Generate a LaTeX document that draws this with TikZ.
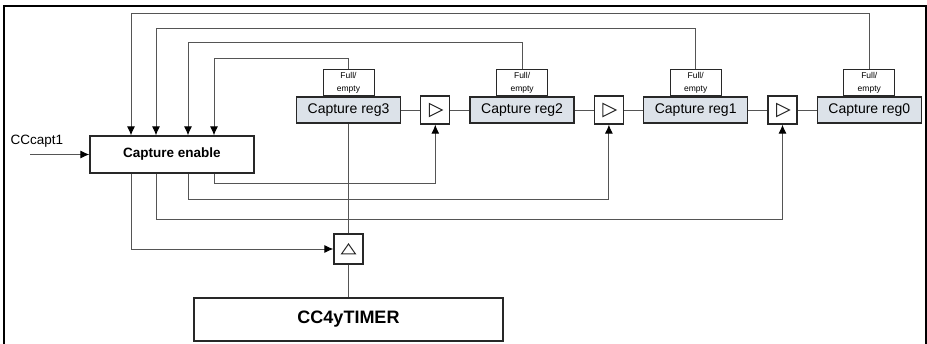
\documentclass[tikz,border=0pt]{standalone}
\usepackage{fontspec}
\setmainfont{Liberation Sans}
\usetikzlibrary{positioning, arrows.meta, calc}

\definecolor{regfill}{RGB}{220,226,233}
\definecolor{wirec}{RGB}{85,85,85}
\definecolor{boxc}{RGB}{40,40,40}

\begin{document}
\begin{tikzpicture}[
	x=1pt, y=-1pt, % one unit = one pixel of the layout
	node distance=19pt,
	>={Latex[length=9pt,width=8pt,color=black]},
	% Style for Nodes
	block/.style={
		rectangle,
		draw=boxc,
		line width=1.3pt,
		fill=white,
		align=center,
		inner sep=0pt
	},
	% Specific Node Styles
	enable/.style={block, minimum width=164pt, minimum height=37pt, font=\fontsize{13.5}{16}\selectfont\bfseries},
	timer/.style={block, minimum width=309pt, minimum height=43pt, font=\fontsize{18}{21}\selectfont\bfseries},
	reg/.style={block, fill=regfill, minimum width=104pt, minimum height=26pt, font=\fontsize{14}{16}\selectfont},
	flag/.style={block, line width=1pt, minimum width=51pt, minimum height=26pt, font=\fontsize{8.5}{12.5}\selectfont},
	buffer/.style={block, minimum width=29pt, minimum height=28pt,
		path picture={\draw[line width=1pt, boxc] ([shift={(-6pt,6.5pt)}]path picture bounding box.center) -- ++(13pt,-6.5pt) -- ++(-13pt,-6.5pt) -- cycle;}},
	trigger/.style={block, minimum width=29pt, minimum height=30pt,
		path picture={\draw[line width=1pt, boxc] ([shift={(-7pt,-5pt)}]path picture bounding box.center) -- ++(14pt,0pt) -- ++(-7pt,10pt) -- cycle;}},
	% Arrow Styles
	wire/.style={draw=wirec, line width=0.9pt},
	feed/.style={wire, ->},
	frame/.style={draw=black, line width=1.3pt}
	]
	
	\useasboundingbox (0,0) rectangle (927,344);
	
	% --- OUTER FRAME ---
	\draw[frame] (4,344) |- (926,6) -- (926,344);
	
	% --- CONTROL ---
	
	% Capture enable block
	\node[enable] (en) at (172,154.5) {Capture enable};
	
	% Input label
	\node[font=\fontsize{13.5}{16}\selectfont] (cclabel) at (37,141) {CCcapt1};
	\coordinate (ccin) at (30,154.5);
	
	% --- CAPTURE REGISTER CHAIN ---
	
	\node[reg] (r3) at (348.5,110) {Capture reg3};
	\node[buffer, right=of r3] (b1) {};
	\node[reg, right=of b1] (r2) {Capture reg2};
	\node[buffer, right=of r2] (b2) {};
	\node[reg, right=of b2] (r1) {Capture reg1};
	\node[buffer, right=of r1] (b3) {};
	\node[reg, right=of b3] (r0) {Capture reg0};
	
	% Full/empty flags on top of each register
	\foreach \i in {0,1,2,3} {
		\node[flag, above=0pt of r\i] (fe\i) {Full/\\empty};
	}
	
	% --- TIMER ---
	
	\node[trigger] (tr) at (348.5,249) {};
	\node[timer] (tm) at (348.5,319.5) {CC4yTIMER};
	
	% --- CONNECTIONS ---
	
	% Data path
	\draw[wire] (r3) -- (b1) -- (r2) -- (b2) -- (r1) -- (b3) -- (r0);
	\draw[wire] (r3.south) -- (tr.north);
	\draw[wire] (tr.south) -- (tm.north);
	
	% Input
	\draw[feed] (ccin) -- (en.west);
	
	% Full/empty status back to the enable block
	\foreach \i/\y/\dx in {3/58/42, 2/42/16, 1/28/-16, 0/13/-41} {
		\coordinate (top\i) at (0,\y);
		\draw[feed] (fe\i.north) -- (fe\i.north |- top\i) -| ([xshift=\dx pt]en.north);
	}
	
	% Shift enables to the buffers
	\foreach \j/\dy/\dx in {1/10/42, 2/26/16, 3/46/-16} {
		\draw[feed] ([xshift=\dx pt]en.south) -- ++(0,\dy) -| (b\j.south);
	}
	
	% Capture trigger of the timer
	\draw[feed] ([xshift=-41pt]en.south) |- (tr.west);
	
\end{tikzpicture}
\end{document}
